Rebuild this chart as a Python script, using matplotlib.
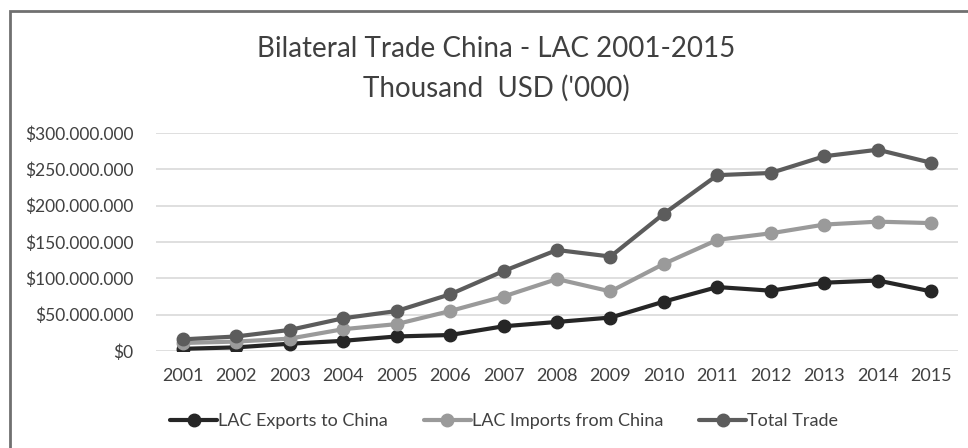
import matplotlib.pyplot as plt
from matplotlib.patches import Rectangle
from matplotlib.ticker import FuncFormatter

years = list(range(2001, 2016))
exports = [3, 5, 10, 14, 20, 22, 34, 40, 46, 68, 88, 83, 94, 97, 82]
imports = [11, 13, 17, 30, 37, 55, 75, 99, 82, 120, 153, 162, 174, 178, 176]
total = [16, 20, 29, 45, 55, 78, 110, 139, 130, 189, 242, 245, 268, 277, 259]
# values read in millions, axis shows full figures
scale = 1_000_000

series = [
    ("LAC Exports to China", exports, "#262626"),
    ("LAC Imports from China", imports, "#9a9a9a"),
    ("Total Trade", total, "#5c5c5c"),
]

plt.rcParams['font.family'] = ['Lato', 'DejaVu Sans']

W, H = 968, 448
fig = plt.figure(figsize=(W / 100, H / 100), dpi=100)
ax = fig.add_axes([156 / W, 1 - 351 / H, (958 - 156) / W, (351 - 133) / H])

for label, vals, color in series:
    ax.plot(years, [v * scale for v in vals], color=color, lw=3,
            marker='o', ms=9, label=label, solid_capstyle='round')

ax.set_xlim(2000.5, 2015.5)
ax.set_ylim(0, 300 * scale)
ax.set_yticks([i * 50 * scale for i in range(7)])
ax.set_xticks(years)
ax.yaxis.set_major_formatter(FuncFormatter(lambda v, p: "$" + f"{int(v):,}".replace(",", ".")))
ax.grid(axis='y', color='#d9d9d9', lw=1.2)
ax.set_axisbelow(True)
for s in ax.spines.values():
    s.set_visible(False)
ax.tick_params(axis='x', length=0, labelsize=13, labelcolor='#404040', pad=12)
ax.tick_params(axis='y', length=0, labelsize=12.5, labelcolor='#404040', pad=16)

fig.text(496 / W, 1 - 49 / H, "Bilateral Trade China - LAC 2001-2015",
         ha='center', va='center', fontsize=20, color='#404040')
fig.text(496 / W, 1 - 88 / H, "Thousand  USD ('000)",
         ha='center', va='center', fontsize=20, color='#404040')

fig.legend(loc='center', bbox_to_anchor=(504 / W, 1 - 421 / H), ncol=3,
           frameon=False, fontsize=13, handlelength=2.6, handletextpad=0.05,
           columnspacing=2.0, labelcolor='#404040')

fig.patches.append(Rectangle((10 / W, -0.1), 1.2, 1 - 11 / H + 0.1,
                             transform=fig.transFigure, fill=False,
                             edgecolor='#707070', lw=2))

fig.savefig("out.png", dpi=100)
